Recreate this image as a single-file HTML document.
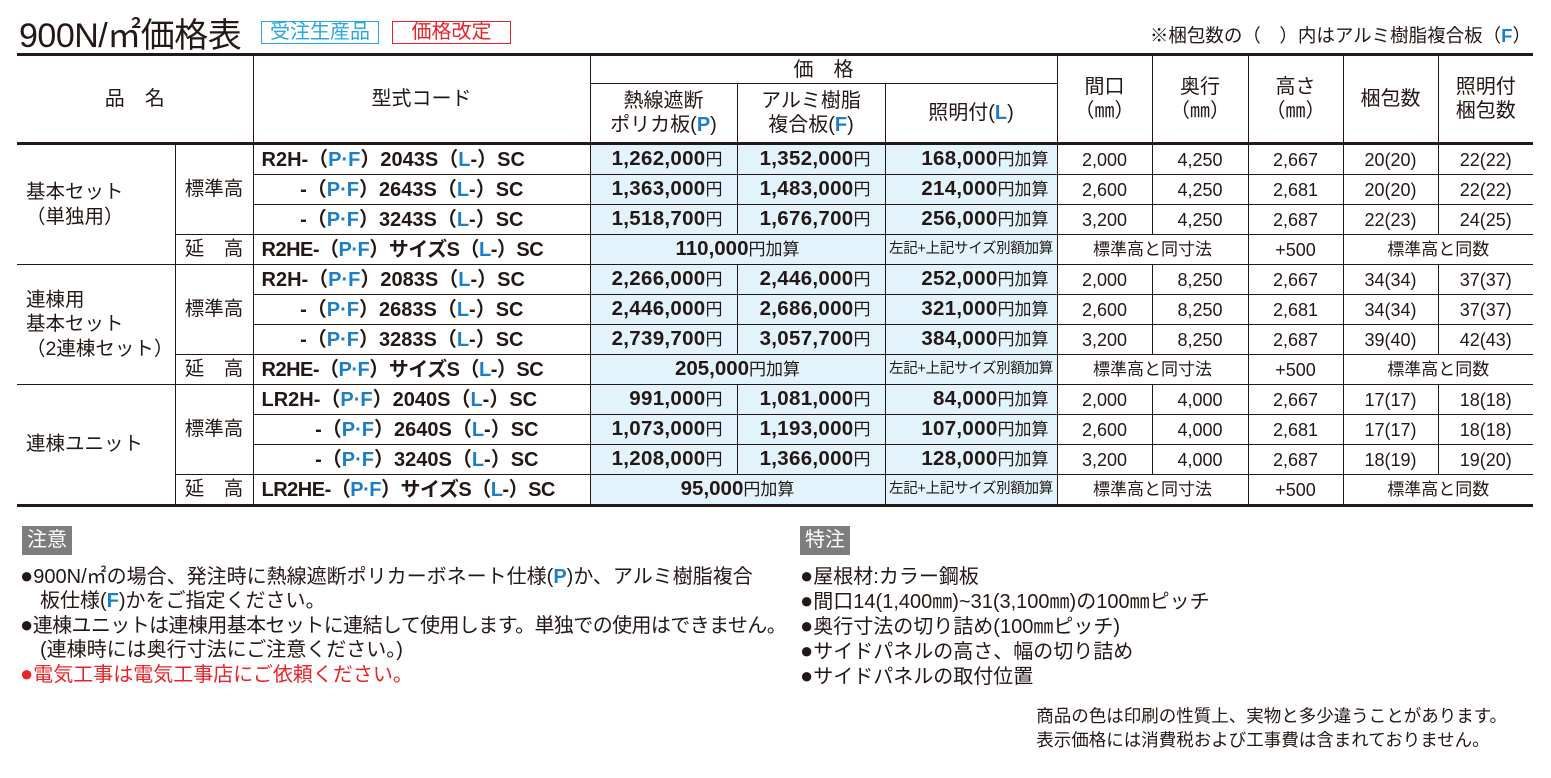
<!DOCTYPE html>
<html><head><meta charset="utf-8"><style>
body{margin:0;background:#fff;width:1551px;height:778px;position:relative;overflow:hidden;font-family:"Liberation Sans","Noto Sans CJK JP",sans-serif;color:#231815}
.a{position:absolute;white-space:nowrap}
.b{color:#1a7fc8;font-weight:bold}
table{position:absolute;left:17px;top:53px;width:1516px;border-collapse:collapse;table-layout:fixed;border-top:3px solid #231815;border-bottom:3px solid #231815}
td{border:1px solid #231815;padding:0;height:29px;font-size:18px;text-align:center;line-height:1;overflow:hidden;white-space:nowrap}
tr td:first-child{border-left:none}
tr td:last-child{border-right:none}
.hd td{font-size:20px;line-height:1.2}
.thick td{border-top:3px solid #231815}
.bl{background:#e3f3fc}
.pr{text-align:right;padding-right:14px;font-weight:bold;font-size:20.5px;letter-spacing:0.3px}
.pr small,.lc small,.ex small{font-weight:normal;font-size:17px;letter-spacing:0}
.lc{text-align:right;padding-right:8px;font-weight:bold;font-size:20.5px;letter-spacing:0.3px}
.ex{font-weight:bold;font-size:20.5px}
.mc{font-weight:bold;font-size:20px;text-align:right;padding-right:66px}
.mc2{font-weight:bold;font-size:20px;text-align:right;padding-right:51px}
.me{font-weight:bold;font-size:20px;text-align:left;padding-left:8px}
.me2{font-weight:bold;font-size:20px;text-align:left;padding-left:8px;letter-spacing:-0.5px}
.sm{font-size:14.5px;letter-spacing:-0.3px}
.st{font-size:17px}
.nm{font-size:19.5px;line-height:1.25}
.box{position:absolute;background:#7d7d7d;color:#fff;font-size:20px;padding:2px 5px;height:25px;line-height:25px}
.note{position:absolute;font-size:20px;line-height:24px;white-space:nowrap}
.bu{font-size:22px}
</style></head><body>
<div class="a" style="left:19px;top:8px;font-size:34px;letter-spacing:-0.5px">900N/㎡価格表</div>
<div class="a" style="left:261px;top:21px;width:116px;height:21px;border:1.5px solid #28a8e0;color:#28a8e0;font-size:20px;line-height:21px;text-align:center">受注生産品</div>
<div class="a" style="left:392px;top:21px;width:117px;height:21px;border:1.5px solid #e8232a;color:#e8232a;font-size:20px;line-height:21px;text-align:center">価格改定</div>
<div class="a" style="right:20px;top:22px;font-size:18.5px">※梱包数の（　）内はアルミ樹脂複合板（<span class="b">F</span>）</div>
<table>
<colgroup><col style="width:158px"><col style="width:78px"><col style="width:337px"><col style="width:147px"><col style="width:148px"><col style="width:172px"><col style="width:95px"><col style="width:96px"><col style="width:95px"><col style="width:95px"><col style="width:95px"></colgroup>
<tr class="hd"><td colspan="2" rowspan="2" style="border-left:none">品　名</td><td rowspan="2">型式コード</td><td colspan="3" style="height:27px">価　格</td><td rowspan="2">間口<br>（㎜）</td><td rowspan="2">奥行<br>（㎜）</td><td rowspan="2">高さ<br>（㎜）</td><td rowspan="2">梱包数</td><td rowspan="2">照明付<br>梱包数</td></tr>
<tr class="hd"><td style="height:58px">熱線遮断<br>ポリカ板(<span class="b">P</span>)</td><td>アルミ樹脂<br>複合板(<span class="b">F</span>)</td><td>照明付(<span class="b">L</span>)</td></tr>

<tr class="thick"><td rowspan="4" class="nm" style="text-align:left;padding-left:9px">基本セット<br>（単独用）</td><td rowspan="3" class="nm">標準高</td><td class="me">R2H-（<span class="b">P·F</span>）2043S（<span class="b">L</span>-）SC</td><td class="bl pr">1,262,000<small>円</small></td><td class="bl pr">1,352,000<small>円</small></td><td class="bl lc">168,000<small>円加算</small></td><td>2,000</td><td>4,250</td><td>2,667</td><td>20(20)</td><td>22(22)</td></tr>
<tr><td class="mc">-（<span class="b">P·F</span>）2643S（<span class="b">L</span>-）SC</td><td class="bl pr">1,363,000<small>円</small></td><td class="bl pr">1,483,000<small>円</small></td><td class="bl lc">214,000<small>円加算</small></td><td>2,600</td><td>4,250</td><td>2,681</td><td>20(20)</td><td>22(22)</td></tr>
<tr><td class="mc">-（<span class="b">P·F</span>）3243S（<span class="b">L</span>-）SC</td><td class="bl pr">1,518,700<small>円</small></td><td class="bl pr">1,676,700<small>円</small></td><td class="bl lc">256,000<small>円加算</small></td><td>3,200</td><td>4,250</td><td>2,687</td><td>22(23)</td><td>24(25)</td></tr>
<tr><td class="nm">延　高</td><td class="me2">R2HE-（<span class="b">P·F</span>）サイズS（<span class="b">L</span>-）SC</td><td colspan="2" class="bl ex">110,000<small>円加算</small></td><td class="bl sm">左記+上記サイズ別額加算</td><td colspan="2" class="st">標準高と同寸法</td><td>+500</td><td colspan="2" class="st">標準高と同数</td></tr>

<tr><td rowspan="4" class="nm" style="text-align:left;padding-left:9px">連棟用<br>基本セット<br>（2連棟セット）</td><td rowspan="3" class="nm">標準高</td><td class="me">R2H-（<span class="b">P·F</span>）2083S（<span class="b">L</span>-）SC</td><td class="bl pr">2,266,000<small>円</small></td><td class="bl pr">2,446,000<small>円</small></td><td class="bl lc">252,000<small>円加算</small></td><td>2,000</td><td>8,250</td><td>2,667</td><td>34(34)</td><td>37(37)</td></tr>
<tr><td class="mc">-（<span class="b">P·F</span>）2683S（<span class="b">L</span>-）SC</td><td class="bl pr">2,446,000<small>円</small></td><td class="bl pr">2,686,000<small>円</small></td><td class="bl lc">321,000<small>円加算</small></td><td>2,600</td><td>8,250</td><td>2,681</td><td>34(34)</td><td>37(37)</td></tr>
<tr><td class="mc">-（<span class="b">P·F</span>）3283S（<span class="b">L</span>-）SC</td><td class="bl pr">2,739,700<small>円</small></td><td class="bl pr">3,057,700<small>円</small></td><td class="bl lc">384,000<small>円加算</small></td><td>3,200</td><td>8,250</td><td>2,687</td><td>39(40)</td><td>42(43)</td></tr>
<tr><td class="nm">延　高</td><td class="me2">R2HE-（<span class="b">P·F</span>）サイズS（<span class="b">L</span>-）SC</td><td colspan="2" class="bl ex">205,000<small>円加算</small></td><td class="bl sm">左記+上記サイズ別額加算</td><td colspan="2" class="st">標準高と同寸法</td><td>+500</td><td colspan="2" class="st">標準高と同数</td></tr>

<tr><td rowspan="4" class="nm" style="text-align:left;padding-left:9px">連棟ユニット</td><td rowspan="3" class="nm">標準高</td><td class="me">LR2H-（<span class="b">P·F</span>）2040S（<span class="b">L</span>-）SC</td><td class="bl pr">991,000<small>円</small></td><td class="bl pr">1,081,000<small>円</small></td><td class="bl lc">84,000<small>円加算</small></td><td>2,000</td><td>4,000</td><td>2,667</td><td>17(17)</td><td>18(18)</td></tr>
<tr><td class="mc2">-（<span class="b">P·F</span>）2640S（<span class="b">L</span>-）SC</td><td class="bl pr">1,073,000<small>円</small></td><td class="bl pr">1,193,000<small>円</small></td><td class="bl lc">107,000<small>円加算</small></td><td>2,600</td><td>4,000</td><td>2,681</td><td>17(17)</td><td>18(18)</td></tr>
<tr><td class="mc2">-（<span class="b">P·F</span>）3240S（<span class="b">L</span>-）SC</td><td class="bl pr">1,208,000<small>円</small></td><td class="bl pr">1,366,000<small>円</small></td><td class="bl lc">128,000<small>円加算</small></td><td>3,200</td><td>4,000</td><td>2,687</td><td>18(19)</td><td>19(20)</td></tr>
<tr><td class="nm">延　高</td><td class="me2">LR2HE-（<span class="b">P·F</span>）サイズS（<span class="b">L</span>-）SC</td><td colspan="2" class="bl ex">95,000<small>円加算</small></td><td class="bl sm">左記+上記サイズ別額加算</td><td colspan="2" class="st">標準高と同寸法</td><td>+500</td><td colspan="2" class="st">標準高と同数</td></tr>
</table>

<div class="box" style="left:22px;top:526px">注意</div>
<div class="note" style="left:20px;top:564px"><span class="bu">●</span>900N/㎡の場合、発注時に熱線遮断ポリカーボネート仕様(<span class="b">P</span>)か、アルミ樹脂複合<br>　板仕様(<span class="b">F</span>)かをご指定ください。<br><span style="letter-spacing:-0.6px"><span class="bu">●</span>連棟ユニットは連棟用基本セットに連結して使用します。単独での使用はできません。</span><br>　(連棟時には奥行寸法にご注意ください。)<br><span style="color:#e8232a"><span class="bu">●</span>電気工事は電気工事店にご依頼ください。</span></div>
<div class="box" style="left:800px;top:526px">特注</div>
<div class="note" style="left:800px;top:564px"><span class="bu">●</span>屋根材:カラー鋼板<br><span class="bu">●</span>間口14(1,400㎜)~31(3,100㎜)の100㎜ピッチ<br><span class="bu">●</span>奥行寸法の切り詰め(100㎜ピッチ)<br><span class="bu">●</span>サイドパネルの高さ、幅の切り詰め<br><span class="bu">●</span>サイドパネルの取付位置</div>
<div class="note" style="right:44px;top:704px;font-size:17.5px">商品の色は印刷の性質上、実物と多少違うことがあります。<br>表示価格には消費税および工事費は含まれておりません。</div>
</body></html>
